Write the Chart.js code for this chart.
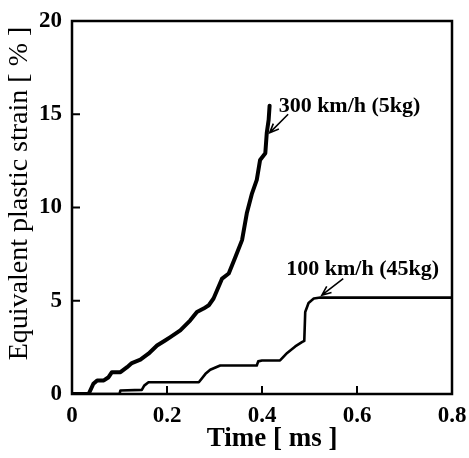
<!DOCTYPE html>
<html>
<head>
<meta charset="utf-8">
<script src="https://cdn.jsdelivr.net/npm/chart.js"></script>
<style>
  html, body { margin: 0; padding: 0; background: #fff; }
  canvas { display: block; }
</style>
</head>
<body>
<canvas id="strainChart" width="469" height="458"></canvas>
<script>
// --- Values ---
const time300 = [0, 0.035, 0.045, 0.053, 0.067, 0.077, 0.084, 0.102, 0.116, 0.126,
                 0.144, 0.161, 0.179, 0.196, 0.207, 0.228, 0.249, 0.263, 0.277, 0.288,
                 0.298, 0.316, 0.33, 0.344, 0.358, 0.368, 0.379, 0.389, 0.396, 0.407,
                 0.41, 0.414, 0.416];
const strain300 = [0, 0, 0.55, 0.73, 0.73, 0.9, 1.17, 1.17, 1.44, 1.66,
                   1.84, 2.16, 2.6, 2.87, 3.05, 3.41, 3.95, 4.4, 4.58, 4.76,
                   5.12, 6.19, 6.46, 7.35, 8.25, 9.69, 10.76, 11.48, 12.55, 12.91,
                   13.99, 14.7, 15.46];

const time100 = [0, 0.1, 0.102, 0.147, 0.152, 0.161, 0.267, 0.281, 0.291, 0.312,
                 0.389, 0.392, 0.4, 0.438, 0.453, 0.47, 0.484, 0.489, 0.491, 0.498,
                 0.509, 0.523, 0.8];
const strain100 = [0, 0, 0.19, 0.22, 0.45, 0.63, 0.63, 1.08, 1.3, 1.53,
                   1.53, 1.75, 1.8, 1.8, 2.2, 2.55, 2.78, 2.85, 4.4, 4.88,
                   5.12, 5.17, 5.17];

const seriesLabels = ['300 km/h (5kg)', '100 km/h (45kg)'];
const xTickLabels = ['0', '0.2', '0.4', '0.6', '0.8'];
const yTickLabels = ['0', '5', '10', '15', '20'];

const serif = "'Liberation Serif', 'Times New Roman', serif";
Chart.defaults.font.family = serif;
Chart.defaults.color = '#000';

// --- Frame, inward ticks and the arrow labels ---
const frameAndArrows = {
    id: 'frameAndArrows',
    afterDraw(chart, args, opts) {
        const { ctx, chartArea: { left, top, right, bottom }, scales: { x, y } } = chart;
        ctx.save();
        ctx.strokeStyle = '#000';
        ctx.lineWidth = 2.5;
        ctx.strokeRect(left, top, right - left, bottom - top);

        ctx.lineWidth = 2;
        ctx.beginPath();
        x.ticks.forEach(t => {
            const px = x.getPixelForValue(t.value);
            ctx.moveTo(px, bottom);
            ctx.lineTo(px, bottom - 8);
        });
        y.ticks.forEach(t => {
            const py = y.getPixelForValue(t.value);
            ctx.moveTo(left, py);
            ctx.lineTo(left + 8, py);
        });
        ctx.stroke();

        ctx.fillStyle = '#000';
        ctx.font = 'bold 22px ' + serif;
        ctx.textBaseline = 'alphabetic';
        opts.notes.forEach((n, i) => {
            ctx.fillText(seriesLabels[i], x.getPixelForValue(n.text[0]), y.getPixelForValue(n.text[1]));
            const x0 = x.getPixelForValue(n.tail[0]), y0 = y.getPixelForValue(n.tail[1]);
            const x1 = x.getPixelForValue(n.tip[0]), y1 = y.getPixelForValue(n.tip[1]);
            const a = Math.atan2(y1 - y0, x1 - x0);
            ctx.lineWidth = 1.6;
            ctx.beginPath();
            ctx.moveTo(x0, y0);
            ctx.lineTo(x1, y1);
            ctx.moveTo(x1 - 10 * Math.cos(a - 0.4), y1 - 10 * Math.sin(a - 0.4));
            ctx.lineTo(x1, y1);
            ctx.lineTo(x1 - 10 * Math.cos(a + 0.4), y1 - 10 * Math.sin(a + 0.4));
            ctx.stroke();
        });
        ctx.restore();
    }
};

new Chart(document.getElementById('strainChart'), {
    type: 'line',
    data: {
        datasets: [{
            label: seriesLabels[0],
            data: time300.map((t, i) => ({ x: t, y: strain300[i] })),
            borderColor: '#000',
            borderWidth: 4,
            pointRadius: 0,
            tension: 0,
            borderJoinStyle: 'round',
            borderCapStyle: 'round'
        }, {
            label: seriesLabels[1],
            data: time100.map((t, i) => ({ x: t, y: strain100[i] })),
            borderColor: '#000',
            borderWidth: 2.6,
            pointRadius: 0,
            tension: 0,
            borderJoinStyle: 'round'
        }]
    },
    options: {
        responsive: false,
        animation: false,
        layout: { padding: { top: 21, right: 17, left: 0, bottom: 0 } },
        scales: {
            x: {
                type: 'linear',
                min: 0,
                max: 0.8,
                afterFit: s => { s.height = 64; s.paddingLeft = 0; s.paddingRight = 0; },
                ticks: {
                    stepSize: 0.2,
                    padding: 8,
                    maxRotation: 0,
                    font: { size: 23, weight: 'bold' },
                    callback: (v, i) => xTickLabels[i]
                },
                grid: { display: false, drawTicks: false },
                border: { display: false },
                title: {
                    display: true,
                    text: '   Time [ ms ]',
                    font: { size: 27, weight: 'bold' },
                    padding: { top: 0, bottom: 3 }
                }
            },
            y: {
                min: 0,
                max: 20,
                afterFit: s => { s.width = 72; s.paddingTop = 0; s.paddingBottom = 0; },
                ticks: {
                    stepSize: 5,
                    padding: 10,
                    font: { size: 23, weight: 'bold' },
                    callback: (v, i) => yTickLabels[i]
                },
                grid: { display: false, drawTicks: false },
                border: { display: false },
                title: {
                    display: true,
                    text: '    Equivalent plastic strain [ % ]',
                    font: { size: 28, weight: 'normal' },
                    padding: { top: 3, bottom: 0 }
                }
            }
        },
        plugins: {
            legend: { display: false },
            tooltip: { enabled: false },
            frameAndArrows: {
                notes: [
                    { text: [0.435, 15.13], tail: [0.455, 15.0], tip: [0.416, 14.0] },
                    { text: [0.451, 6.37], tail: [0.571, 6.19], tip: [0.526, 5.3] }
                ]
            }
        }
    },
    plugins: [frameAndArrows]
});
</script>
</body>
</html>
